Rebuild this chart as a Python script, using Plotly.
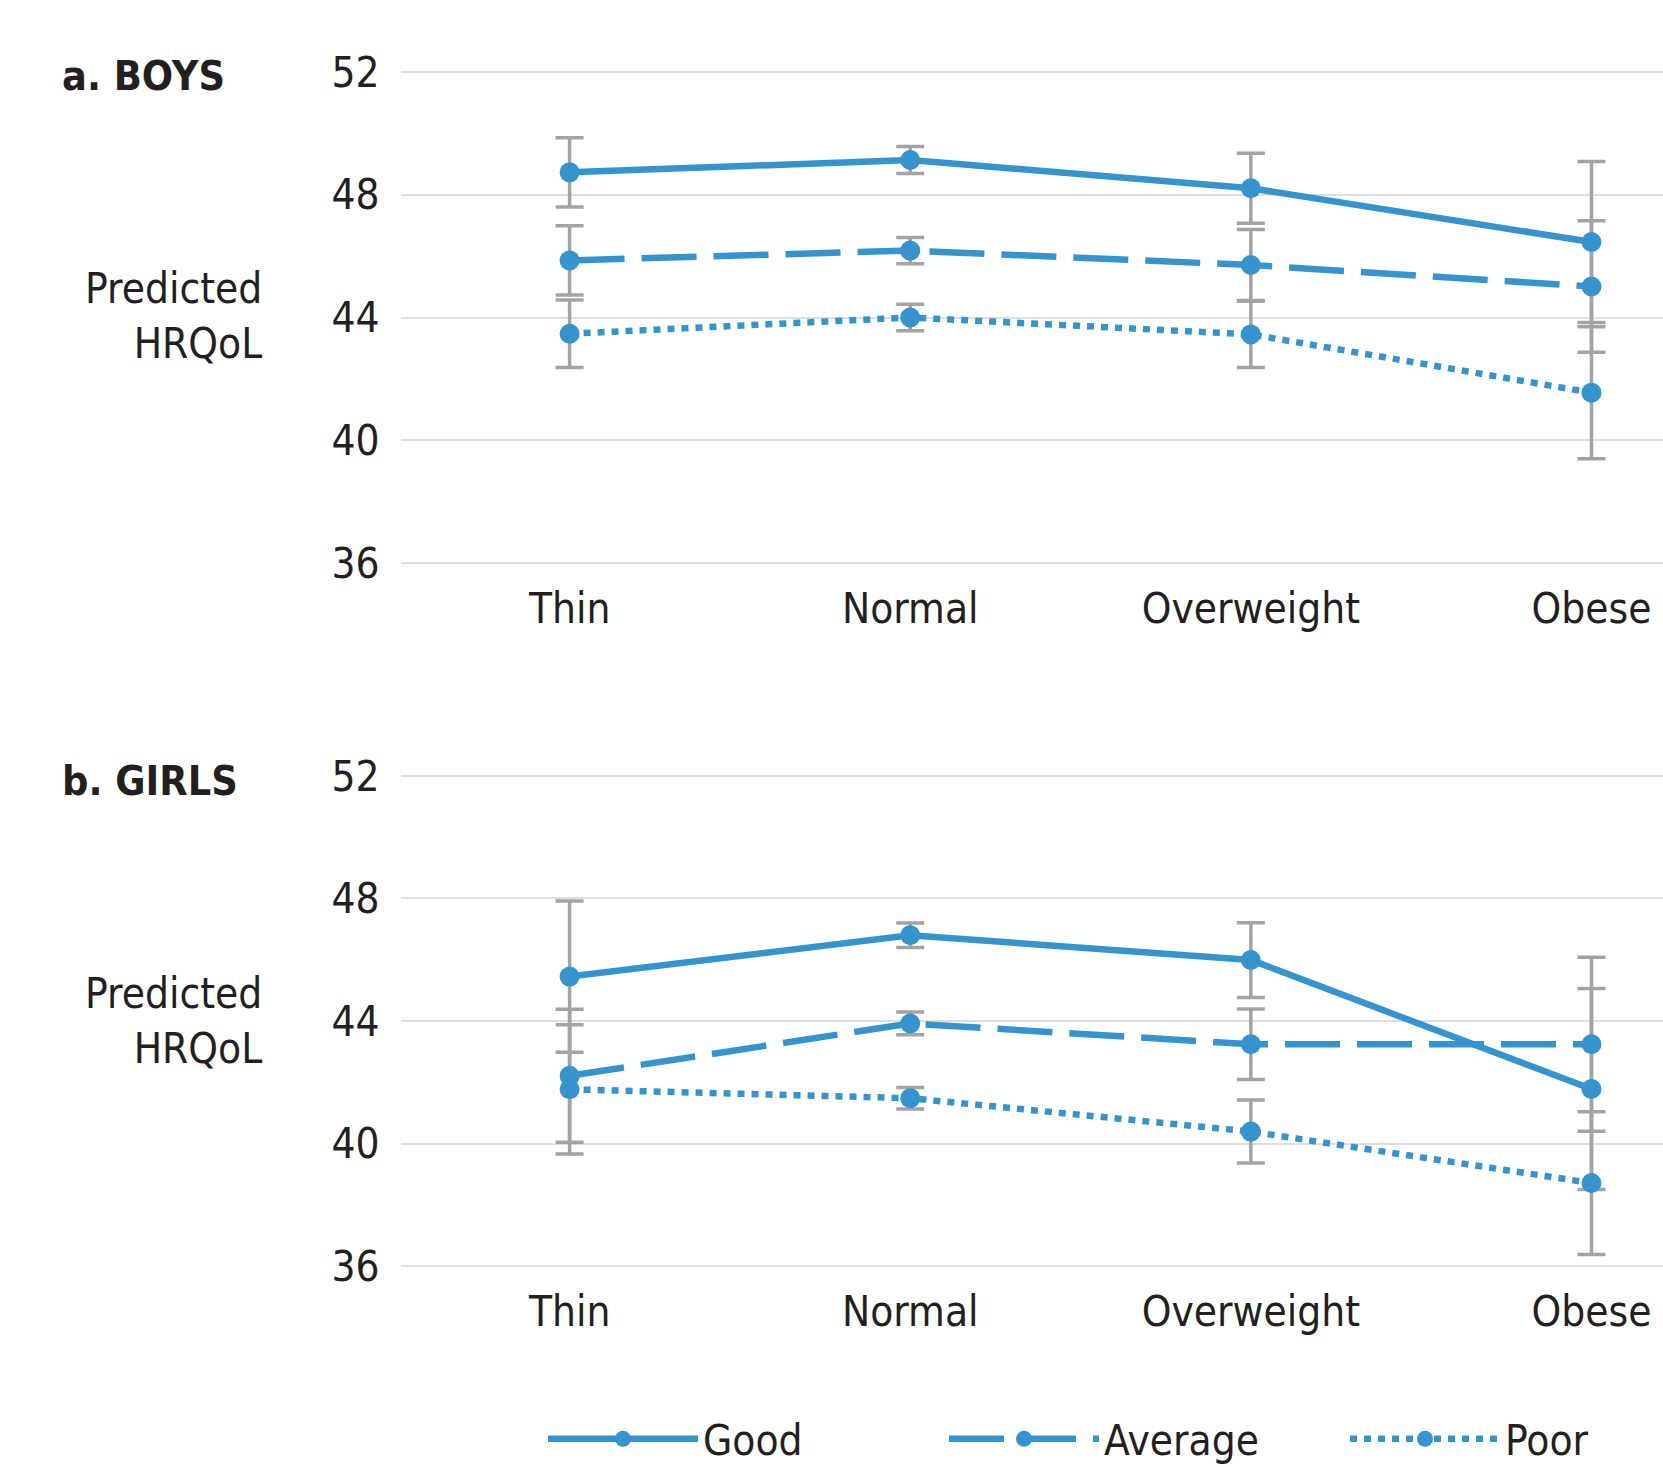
import plotly.graph_objects as go

categories = ["Thin", "Normal", "Overweight", "Obese"]
series_names = ["Good", "Average", "Poor"]

# Boys: predicted HRQoL and error half-widths
boys_good = [48.73, 49.13, 48.21, 46.46]
boys_good_err = [1.13, 0.44, 1.14, 2.62]
boys_avg = [45.86, 46.18, 45.71, 45.01]
boys_avg_err = [1.13, 0.43, 1.16, 2.14]
boys_poor = [43.47, 44.00, 43.45, 41.55]
boys_poor_err = [1.10, 0.43, 1.08, 2.15]

# Girls
girls_good = [45.45, 46.80, 45.99, 41.78]
girls_good_err = [2.47, 0.40, 1.22, 3.28]
girls_avg = [42.21, 43.92, 43.24, 43.24]
girls_avg_err = [2.17, 0.37, 1.15, 2.84]
girls_poor = [41.77, 41.48, 40.39, 38.71]
girls_poor_err = [2.11, 0.35, 1.03, 2.33]

y_ticks = [36, 40, 44, 48, 52]

BLUE = "#3594cd"
GREY = "#a3a3a3"
TEXT = "#231f20"
FONT = "DejaVu Sans Condensed, Liberation Sans, sans-serif"
FS = 42
dashes = ["solid", "55px,17px", "7px,7px"]

panels = [
    ("x", "y", [boys_good, boys_avg, boys_poor], [boys_good_err, boys_avg_err, boys_poor_err]),
    ("x2", "y2", [girls_good, girls_avg, girls_poor], [girls_good_err, girls_avg_err, girls_poor_err]),
]

fig = go.Figure()
# error bars underneath
for xa, ya, vals, errs in panels:
    for v, e in zip(vals, errs):
        fig.add_trace(go.Scatter(
            x=categories, y=v, xaxis=xa, yaxis=ya, mode="markers",
            marker=dict(size=2, opacity=0, color=BLUE), showlegend=False,
            hoverinfo="skip",
            error_y=dict(type="data", array=e, visible=True, color=GREY,
                         thickness=3.5, width=14)))
# lines on top
for pi, (xa, ya, vals, errs) in enumerate(panels):
    for name, v, d in zip(series_names, vals, dashes):
        fig.add_trace(go.Scatter(
            x=categories, y=v, xaxis=xa, yaxis=ya, mode="lines+markers", name=name,
            line=dict(color=BLUE, width=6.5, dash=d),
            marker=dict(color=BLUE, size=20),
            showlegend=(pi == 0)))

W, H = 1663, 1467
xdom = [401 / W, 1.0]
axis_common_x = dict(type="category", categoryarray=categories, range=[-0.495, 3.21],
                     showgrid=False, zeroline=False, showline=False,
                     ticks="outside", ticklen=5, tickcolor="rgba(0,0,0,0)",
                     tickfont=dict(family=FONT, size=FS, color=TEXT), domain=xdom,
                     fixedrange=True)
axis_common_y = dict(range=[35.9, 52.1], tickvals=y_ticks, showgrid=True,
                     gridcolor="#dedede", gridwidth=1.5, zeroline=False, showline=False,
                     ticks="outside", ticklen=12, tickcolor="rgba(0,0,0,0)",
                     tickfont=dict(family=FONT, size=FS, color=TEXT), fixedrange=True)

fig.update_layout(
    width=W, height=H, margin=dict(l=0, r=0, t=0, b=0, autoexpand=False),
    paper_bgcolor="white", plot_bgcolor="white",
    xaxis=dict(axis_common_x, anchor="y"),
    yaxis=dict(axis_common_y, domain=[1 - 566.1 / H, 1 - 68.9 / H], anchor="x"),
    xaxis2=dict(axis_common_x, anchor="y2"),
    yaxis2=dict(axis_common_y, domain=[1 - 1269.1 / H, 1 - 772.9 / H], anchor="x2"),
    legend=dict(orientation="h", x=543 / W, y=1 - 1439 / H, xanchor="left", yanchor="middle",
                font=dict(family=FONT, size=FS, color=TEXT), itemwidth=150,
                entrywidth=236, entrywidthmode="pixels",
                bgcolor="rgba(0,0,0,0)"),
    showlegend=True,
)

annotations = [
    dict(text="<b>a. BOYS</b>", x=60 / W, y=1 - 76 / H, xanchor="left", size=41),
    dict(text="<b>b. GIRLS</b>", x=60 / W, y=1 - 781 / H, xanchor="left", size=41),
    dict(text="Predicted<br>HRQoL", x=264 / W, y=1 - 316 / H, xanchor="right", align="right", size=FS),
    dict(text="Predicted<br>HRQoL", x=264 / W, y=1 - 1021 / H, xanchor="right", align="right", size=FS),
]
for a in annotations:
    sz = a.pop("size")
    fig.add_annotation(xref="paper", yref="paper", yanchor="middle", showarrow=False,
                       font=dict(family=FONT, size=sz, color=TEXT), **a)

fig.write_html("out.html", config={"displayModeBar": False},
               post_script="document.body.style.margin='0';")
